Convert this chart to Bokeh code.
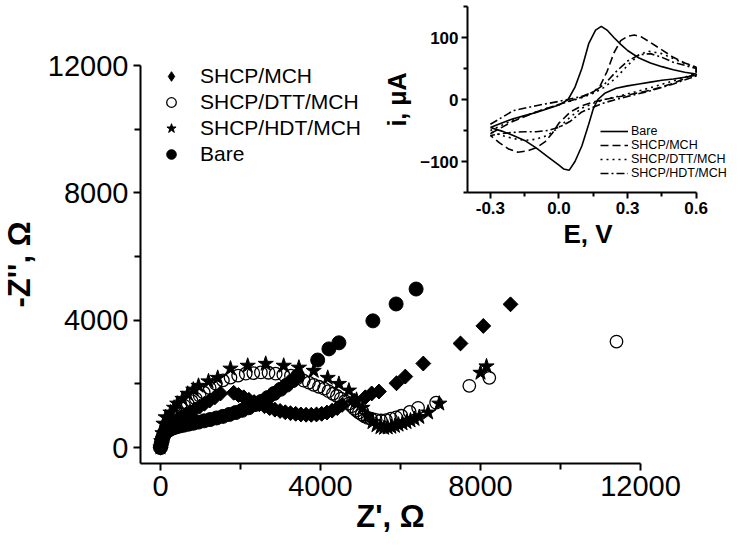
import numpy as np
from bokeh.plotting import figure
from bokeh.models import Range1d, FixedTicker, Legend, LegendItem, PrintfTickFormatter, Title
from bokeh.embed import file_html
from bokeh.resources import INLINE

# ---------------- Main Nyquist data ----------------
bare_x = [0, 10, 20, 35, 50, 70, 100, 140, 190, 250, 320, 400, 490, 590, 700, 820, 950, 1090, 1240, 1400,
          1560, 1720, 1880, 2040, 2200, 2360, 2520, 2680, 2840, 3000, 3150, 3300, 3430,
          3930, 4210, 4460, 5310, 5890, 6390]
bare_y = [0, 60, 130, 200, 280, 360, 430, 490, 540, 580, 620, 650, 680, 705, 735, 765, 800, 840, 880, 930,
          980, 1040, 1100, 1170, 1250, 1350, 1450, 1570, 1700, 1830, 1960, 2100, 2250,
          2750, 3100, 3290, 3980, 4510, 4980]

mch_x = [0, 30, 80, 150, 230, 320, 420, 520, 630, 740, 860, 980, 1100, 1230, 1360, 1500,
         1830, 1950, 2080, 2210, 2340, 2470, 2600, 2730, 2860, 2990, 3120, 3250, 3380, 3510, 3640,
         3770, 3900, 4030, 4160, 4290, 4420, 4540,
         4840, 5120, 5280, 5460, 5900, 6120, 6570, 7500, 8070, 8750]
mch_y = [0, 150, 350, 550, 680, 790, 880, 960, 1040, 1120, 1200, 1290, 1380, 1480, 1580, 1700,
         1720, 1650, 1580, 1500, 1430, 1360, 1300, 1240, 1190, 1150, 1110, 1080, 1060, 1040, 1030,
         1030, 1040, 1060, 1100, 1160, 1240, 1340,
         1470, 1580, 1700, 1760, 2020, 2230, 2640, 3270, 3820, 4500]

dtt_x = [0, 15, 40, 80, 130, 190, 260, 340, 420, 500, 590, 680, 780, 880, 980, 1080, 1230, 1380, 1560,
         1750, 1940, 2130, 2320, 2510, 2700, 2880, 3070, 3260, 3420, 3580, 3710, 3830, 3960, 4090,
         4200, 4310, 4410, 4510, 4610, 4710, 4780, 4840, 4900, 4960, 5030, 5100, 5180, 5260, 5380,
         5510, 5640, 5760, 5890, 6020, 6230, 6440, 6890, 7720, 8220, 11400]
dtt_y = [0, 120, 280, 460, 620, 770, 900, 1020, 1130, 1260, 1320, 1380, 1460, 1540, 1630, 1730, 1870,
         2010, 2110, 2200, 2260, 2320, 2340, 2360, 2350, 2320, 2290, 2260, 2180, 2100, 2040, 1970,
         1910, 1850, 1770, 1690, 1620, 1540, 1460, 1380, 1300, 1220, 1160, 1100, 1040, 980, 930, 910,
         870, 850, 860, 910, 950, 1000, 1120, 1250, 1410, 1940, 2190, 3330]

hdt_x = [0, 20, 50, 75, 130, 250, 340, 420, 550, 680, 820, 950, 1200, 1430, 1750, 2180, 2630, 3080,
         3460, 3830, 4180, 4460, 4710, 4900, 5050, 5180, 5300, 5400, 5500, 5590, 5680, 5770, 5860,
         5950, 6050, 6150, 6250, 6350, 6470, 6690, 6970, 8000, 8150]
hdt_y = [0, 200, 450, 750, 950, 1100, 1250, 1380, 1530, 1690, 1820, 1940, 2080, 2190, 2480, 2570,
         2630, 2570, 2510, 2410, 2190, 2000, 1790, 1500, 1250, 1000, 800, 700, 640, 620, 630, 650,
         680, 720, 760, 800, 850, 900, 960, 1100, 1380, 2350, 2550]

main_ticks = [0, 4000, 8000, 12000]
main_minor = [2000, 6000, 10000]

# ---------------- Inset CV data ----------------
cv_bare_E = [-0.3, -0.25, -0.2, -0.15, -0.1, -0.05, 0.0, 0.04, 0.07, 0.1, 0.13, 0.16, 0.185, 0.21, 0.24,
             0.27, 0.3, 0.35, 0.4, 0.45, 0.5, 0.55, 0.6,
             0.6, 0.55, 0.5, 0.45, 0.4, 0.35, 0.3, 0.25, 0.2, 0.17, 0.15, 0.13, 0.1, 0.07, 0.045, 0.02,
             0.0, -0.05, -0.1, -0.15, -0.2, -0.25, -0.3]
cv_bare_I = [-45, -38, -31, -26, -21, -15, -9, 0, 20, 50, 90, 112, 118, 112, 100, 89, 79, 67, 59, 53, 48,
             44, 41,
             39, 36, 33, 31, 28, 25, 22, 18, 10, 0, -15, -40, -75, -100, -114, -112, -106, -92, -78,
             -66, -58, -51, -45]

cv_mch_E = [-0.3, -0.2, -0.1, 0.0, 0.05, 0.1, 0.15, 0.18, 0.21, 0.24, 0.27, 0.3, 0.33, 0.36, 0.4, 0.45,
            0.5, 0.55, 0.6,
            0.6, 0.5, 0.4, 0.3, 0.2, 0.15, 0.1, 0.05, 0.0, -0.03, -0.06, -0.1, -0.14, -0.18, -0.22,
            -0.26, -0.3]
cv_mch_I = [-55, -35, -20, -8, -2, 4, 12, 22, 45, 75, 95, 102, 104, 101, 92, 80, 68, 59, 52,
            42, 26, 15, 7, 0, -4, -10, -20, -38, -55, -68, -78, -83, -85, -80, -70, -58]

cv_dtt_E = [-0.3, -0.2, -0.1, 0.0, 0.1, 0.15, 0.2, 0.25, 0.3, 0.35, 0.39, 0.45, 0.5, 0.55, 0.6,
            0.6, 0.5, 0.4, 0.3, 0.2, 0.15, 0.1, 0.05, 0.0, -0.05, -0.1, -0.15, -0.2, -0.25, -0.3]
cv_dtt_I = [-50, -33, -20, -8, 3, 10, 20, 35, 55, 72, 78, 74, 66, 58, 52,
            42, 30, 19, 9, 0, -6, -14, -28, -45, -58, -64, -66, -63, -58, -52]

cv_hdt_E = [-0.3, -0.2, -0.1, 0.0, 0.1, 0.15, 0.2, 0.25, 0.3, 0.35, 0.4, 0.45, 0.5, 0.55, 0.6,
            0.6, 0.5, 0.4, 0.3, 0.2, 0.1, 0.05, 0.0, -0.05, -0.1, -0.15, -0.2, -0.25, -0.3]
cv_hdt_I = [-40, -18, -10, -3, 5, 12, 25, 45, 62, 72, 74, 68, 60, 55, 50,
            38, 25, 14, 5, -5, -20, -35, -45, -50, -52, -52, -53, -55, -58]

inset_xticks = [-0.3, 0.0, 0.3, 0.6]
inset_xminor = [-0.15, 0.15, 0.45]
inset_yticks = [-100, 0, 100]
inset_yminor = [-150, -50, 50, 150]

FONT = "Liberation Sans"

# ---------------- Main figure ----------------
p = figure(frame_width=500, frame_height=398,
           min_border_left=150, min_border_right=60, min_border_top=65, min_border_bottom=86,
           x_range=Range1d(-500, 12000), y_range=Range1d(-500, 12000),
           output_backend="svg", toolbar_location=None,
           styles={"position": "absolute", "left": "-10px", "top": "0px"})
p.outline_line_color = None
p.xgrid.visible = False
p.ygrid.visible = False
p.background_fill_color = None
p.border_fill_color = None

p.xaxis.ticker = FixedTicker(ticks=main_ticks, minor_ticks=main_minor)
p.yaxis.ticker = FixedTicker(ticks=main_ticks, minor_ticks=main_minor)
for ax in (p.xaxis, p.yaxis):
    ax.axis_line_width = 2
    ax.major_tick_line_width = 2
    ax.minor_tick_line_width = 2
    ax.major_tick_out = 7
    ax.major_tick_in = 0
    ax.minor_tick_out = 6
    ax.minor_tick_in = 0
    ax.major_label_text_font = FONT
    ax.major_label_text_font_size = "29px"
    ax.major_label_text_color = "black"
    ax.axis_label_text_font = FONT
    ax.axis_label_text_font_style = "bold"
    ax.axis_label_text_font_size = "31px"
    ax.axis_label_text_color = "black"
    ax.major_label_standoff = 5
p.xaxis.axis_label = "Z', Ω"
p.yaxis.axis_label = "-Z'', Ω"
p.xaxis.axis_label_standoff = 0
p.yaxis.axis_label_standoff = 8

# diamond-shaped key for the legend, drawn underneath the rotated squares
r_mch_key = p.scatter(mch_x, mch_y, marker="diamond", size=14, fill_color="black", line_color="black")
r_bare = p.scatter(bare_x, bare_y, marker="circle", size=14, fill_color="black", line_color="black")
r_mch = p.scatter(mch_x, mch_y, marker="square", angle=np.pi / 4, size=10.5,
                  fill_color="black", line_color="black")
r_dtt = p.scatter(dtt_x, dtt_y, marker="circle", size=12.5, fill_color=None, line_color="black",
                  line_width=1.3)
r_hdt = p.scatter(hdt_x, hdt_y, marker="star", size=16, fill_color="black", line_color="black")

leg = Legend(items=[LegendItem(label="SHCP/MCH", renderers=[r_mch_key]),
                    LegendItem(label="SHCP/DTT/MCH", renderers=[r_dtt]),
                    LegendItem(label="SHCP/HDT/MCH", renderers=[r_hdt]),
                    LegendItem(label="Bare", renderers=[r_bare])],
             location=(19, 296), padding=0, spacing=0, margin=0,
             glyph_width=24, glyph_height=26, label_height=26, label_standoff=17,
             label_text_font=FONT, label_text_font_size="21px", label_text_color="black",
             border_line_color=None, background_fill_alpha=0)
p.add_layout(leg)

# ---------------- Inset figure ----------------
q = figure(frame_width=279, frame_height=186,
           min_border_left=87, min_border_right=2, min_border_top=6, min_border_bottom=56,
           x_range=Range1d(-0.4, 0.82), y_range=Range1d(-150, 150),
           output_backend="svg", toolbar_location=None,
           styles={"position": "absolute", "left": "380px", "top": "0px"})
q.outline_line_color = None
q.xgrid.visible = False
q.ygrid.visible = False
q.background_fill_color = None
q.border_fill_color = None
q.xaxis.ticker = FixedTicker(ticks=inset_xticks, minor_ticks=inset_xminor)
q.yaxis.ticker = FixedTicker(ticks=inset_yticks, minor_ticks=inset_yminor)
q.xaxis.formatter = PrintfTickFormatter(format="%.1f")
q.xaxis.bounds = (-0.4, 0.6)
for ax in (q.xaxis, q.yaxis):
    ax.axis_line_width = 2
    ax.major_tick_line_width = 2
    ax.minor_tick_line_width = 2
    ax.major_tick_out = 6
    ax.major_tick_in = 0
    ax.minor_tick_out = 4
    ax.minor_tick_in = 0
    ax.major_label_text_font = FONT
    ax.major_label_text_font_style = "bold"
    ax.major_label_text_font_size = "17px"
    ax.major_label_text_color = "black"
    ax.axis_label_text_font = FONT
    ax.axis_label_text_font_style = "bold"
    ax.axis_label_text_font_size = "25px"
    ax.axis_label_text_color = "black"
    ax.major_label_standoff = 3
q.yaxis.axis_label = "i, μA"
q.yaxis.axis_label_standoff = 6
q.add_layout(Title(text="E, V", align="left", offset=96, standoff=0,
                   text_font=FONT, text_font_style="bold", text_font_size="26px",
                   text_color="black"), "below")

l_bare = q.line(cv_bare_E, cv_bare_I, line_color="black", line_width=1.6)
l_mch = q.line(cv_mch_E, cv_mch_I, line_color="black", line_width=1.6, line_dash="8 4")
l_dtt = q.line(cv_dtt_E, cv_dtt_I, line_color="black", line_width=1.6, line_dash="2 4")
l_hdt = q.line(cv_hdt_E, cv_hdt_I, line_color="black", line_width=1.6, line_dash="8 3 2 3")

leg2 = Legend(items=[LegendItem(label="Bare", renderers=[l_bare]),
                     LegendItem(label="SHCP/MCH", renderers=[l_mch]),
                     LegendItem(label="SHCP/DTT/MCH", renderers=[l_dtt]),
                     LegendItem(label="SHCP/HDT/MCH", renderers=[l_hdt])],
              location=(133, 12), padding=0, spacing=0, margin=0,
              glyph_width=28, glyph_height=12, label_height=12, label_standoff=3,
              label_text_font=FONT, label_text_font_size="12.5px", label_text_color="black",
              border_line_color=None, background_fill_alpha=0)
q.add_layout(leg2)

open("out.html", "w").write(file_html([p, q], INLINE))
